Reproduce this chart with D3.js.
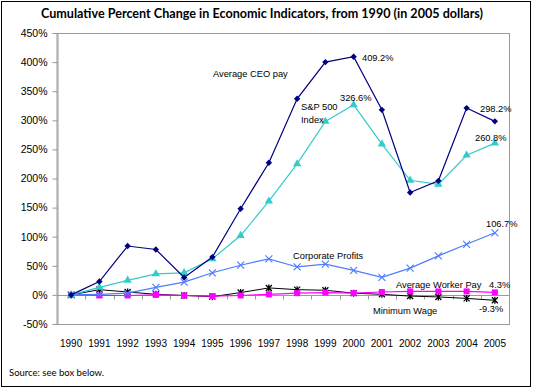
<!DOCTYPE html>
<html><head><meta charset="utf-8">
<script src="https://cdn.jsdelivr.net/npm/d3@7"></script>
<style>body{margin:0;background:#fff}svg{display:block}</style>
</head><body>
<svg id="c" width="533" height="389"></svg>
<script>
const years = ["1990","1991","1992","1993","1994","1995","1996","1997","1998","1999","2000","2001","2002","2003","2004","2005"];
const ceoPay = [0,23,84,78,30,65,148,227,337,400,409.2,318,176,196,321,298.2];
const sp500 = [0,13,25,36,38,62,102,161,225,298,326.6,259,197,190,240,260.8];
const corpProfits = [0,1,3,13,22,38,51,62,48,53,42,30,46,67,87,106.7];
const workerPay = [0,-1,-1,0,-1,-2,-1,1,3,4,3,5,6,6,6,4.3];
const minWage = [0,9,5,1,-1,-3,4,12,9,8,3,1,-2,-3.5,-6,-9.3];
const yTicks = [-50,0,50,100,150,200,250,300,350,400,450];

const svg = d3.select("#c");
const L = 57, R = 509, T = 33, B = 324;
const AF = "Arial,'Liberation Sans',sans-serif";

svg.append("rect").attr("x",1.5).attr("y",1.5).attr("width",529).attr("height",385)
  .attr("fill","#fff").attr("stroke","#000").attr("stroke-width",1);

svg.append("text").attr("x",262).attr("y",18).attr("text-anchor","middle")
  .attr("font-family","'Gill Sans','Lato','Open Sans',sans-serif").attr("font-weight","bold")
  .attr("font-size",12.6).attr("fill","#000")
  .text("Cumulative Percent Change in Economic Indicators, from 1990 (in 2005 dollars)");

const x = d3.scaleBand().domain(years).range([L,R]);
const y = d3.scaleLinear().domain([-50,450]).range([B,T]);
const cx = d => x(d) + x.bandwidth()/2;

// plot border
svg.append("rect").attr("x",L).attr("y",T+0.5).attr("width",R-L+0.5).attr("height",B-T)
  .attr("fill","none").attr("stroke","#9a9a9a").attr("stroke-width",1);

// y axis
const ya = svg.append("g").attr("transform",`translate(${L+0.5},0)`)
  .call(d3.axisLeft(y).tickValues(yTicks).tickFormat(d=>d+"%").tickSize(5).tickPadding(5));
ya.select(".domain").attr("stroke","#9a9a9a");
ya.selectAll(".tick line").attr("stroke","#9a9a9a");
ya.selectAll("text").attr("font-family",AF).attr("font-size",10.5).attr("fill","#000");

// x axis at 0% with ticks between categories
const xa = svg.append("g").attr("transform",`translate(0,${Math.round(y(0))+0.5})`);
xa.append("line").attr("x1",L).attr("x2",R).attr("stroke","#9a9a9a");
xa.selectAll("line.t").data(years.slice(1)).enter().append("line").attr("class","t")
  .attr("x1",d=>Math.round(x(d))+0.5).attr("x2",d=>Math.round(x(d))+0.5).attr("y1",0).attr("y2",4)
  .attr("stroke","#9a9a9a");
svg.append("g").selectAll("text").data(years).enter().append("text")
  .attr("x",d=>cx(d)).attr("y",347).attr("text-anchor","middle")
  .attr("font-family",AF).attr("font-size",10).attr("fill","#000")
  .text(d=>d);

const line = d3.line().x((d,i)=>cx(years[i])).y(d=>y(d));

function series(vals,color,marker,w){
  svg.append("path").datum(vals).attr("d",line).attr("fill","none").attr("stroke",color).attr("stroke-width",w||1.2);
  const g = svg.append("g");
  vals.forEach((v,i)=>{
    const px = cx(years[i]), py = y(v);
    if(marker==="diamond") g.append("path").attr("d",d3.symbol(d3.symbolDiamond2,26)()).attr("transform",`translate(${px},${py})`).attr("fill",color);
    else if(marker==="triangle") g.append("path").attr("d",d3.symbol(d3.symbolTriangle,30)()).attr("transform",`translate(${px},${py})`).attr("fill",color);
    else if(marker==="square") g.append("rect").attr("x",px-3).attr("y",py-3).attr("width",6).attr("height",6).attr("fill",color);
    else if(marker==="x") g.append("path").attr("d",`M${px-3.5},${py-3.5}L${px+3.5},${py+3.5}M${px-3.5},${py+3.5}L${px+3.5},${py-3.5}`).attr("stroke",color).attr("stroke-width",1.1);
    else if(marker==="star") g.append("path").attr("d",`M${px-3},${py-3}L${px+3},${py+3}M${px-3},${py+3}L${px+3},${py-3}M${px},${py-3.5}L${px},${py+3.5}`).attr("stroke",color).attr("stroke-width",1.3);
  });
}
series(minWage,"#000000","star",1);
series(workerPay,"#ff00ff","square");
series(corpProfits,"#4d7cff","x");
series(sp500,"#33cccc","triangle");
series(ceoPay,"#000080","diamond");

const labels = [
  ["Average CEO pay",213,77],
  ["409.2%",362,61],
  ["S&P 500",301,110],
  ["Index",301,123],
  ["326.6%",340,101],
  ["298.2%",480,112],
  ["260.8%",475,141],
  ["106.7%",486,227],
  ["Corporate Profits",293,259],
  ["Average Worker Pay",396,288],
  ["4.3%",489,288],
  ["Minimum Wage",373,314],
  ["-9.3%",479,312]
];
svg.append("g").selectAll("text").data(labels).enter().append("text")
  .attr("x",d=>d[1]).attr("y",d=>d[2])
  .attr("font-family",AF).attr("font-size",9.3).attr("fill","#000")
  .text(d=>d[0]);

svg.append("text").attr("x",9).attr("y",376)
  .attr("font-family","'Gill Sans','Lato','Open Sans',sans-serif").attr("font-size",9.5).attr("fill","#000")
  .text("Source: see box below.");
</script>
</body></html>
